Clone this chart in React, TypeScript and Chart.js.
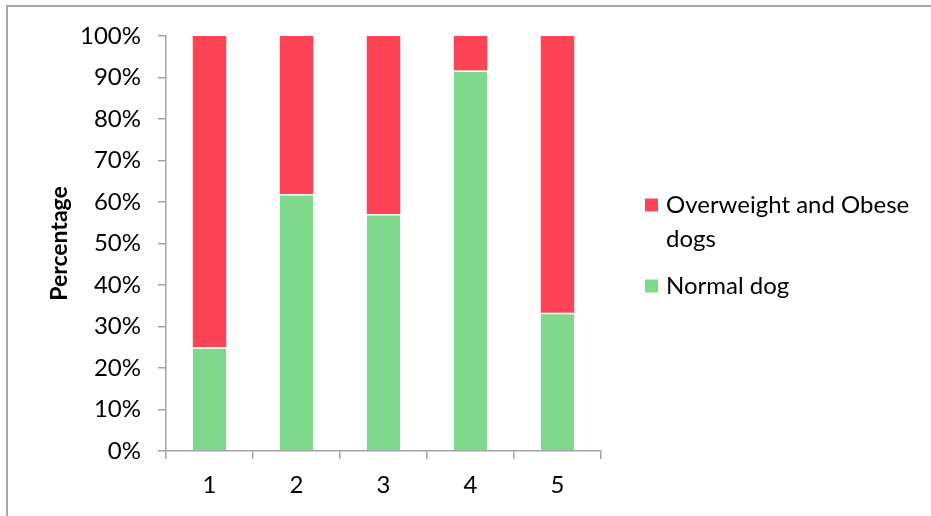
import React, { useEffect, useRef } from "react";
import { Chart, registerables } from "chart.js";

Chart.register(...registerables);

const categories = ["1", "2", "3", "4", "5"];
const normalDog = [25, 61.9, 57.1, 91.7, 33.3];
const overweightObese = [75, 38.1, 42.9, 8.3, 66.7];
const seriesLabels = ["Normal dog", "Overweight and Obese dogs"];
const seriesColors = ["#7FD98C", "#FD4457"];
const yTickValues = [0, 10, 20, 30, 40, 50, 60, 70, 80, 90, 100];

const FONT = "Lato, 'Open Sans', sans-serif";
const AXIS_GRAY = "#A3A3A3";

const framePlugin = {
  id: "frame",
  beforeDraw(chart: any) {
    const ctx = chart.ctx;
    ctx.save();
    ctx.fillStyle = "#fff";
    ctx.fillRect(0, 0, chart.width, chart.height);
    ctx.strokeStyle = "#A6A6A6";
    ctx.lineWidth = 2;
    ctx.beginPath();
    ctx.moveTo(7, chart.height + 2);
    ctx.lineTo(7, 6);
    ctx.lineTo(chart.width + 2, 6);
    ctx.stroke();
    ctx.restore();
  },
};

const legendPlugin = {
  id: "sideLegend",
  afterDraw(chart: any) {
    const ctx = chart.ctx;
    const x0 = 645;
    const textX = 666;
    const maxW = 260;
    const lineGap = 34;
    const itemGap = 47;
    ctx.save();
    ctx.font = `24px ${FONT}`;
    ctx.textBaseline = "middle";
    ctx.fillStyle = "#000";
    let y = 205;
    const ds = chart.data.datasets.slice().reverse();
    ds.forEach((d: any) => {
      const words = String(d.label).split(" ");
      const lines: string[] = [];
      let cur = "";
      words.forEach((w) => {
        const t = cur ? cur + " " + w : w;
        if (ctx.measureText(t).width > maxW && cur) {
          lines.push(cur);
          cur = w;
        } else cur = t;
      });
      if (cur) lines.push(cur);
      ctx.fillStyle = d.backgroundColor;
      ctx.fillRect(x0, y - 6.5, 13, 13);
      ctx.fillStyle = "#000";
      lines.forEach((ln, i) => {
        ctx.fillText(ln, textX, y + i * lineGap);
      });
      y += (lines.length - 1) * lineGap + itemGap;
    });
    ctx.restore();
  },
};

export default function App() {
  const ref = useRef<HTMLCanvasElement>(null);
  useEffect(() => {
    if (!ref.current) return;
    const chart = new Chart(ref.current, {
      type: "bar",
      data: {
        labels: categories,
        datasets: [
          {
            label: seriesLabels[0],
            data: normalDog,
            backgroundColor: seriesColors[0],
            borderColor: "#ffffff",
            borderWidth: { top: 1.5, left: 0, right: 0, bottom: 0 },
            borderSkipped: false,
            barPercentage: 0.385,
            categoryPercentage: 1,
          },
          {
            label: seriesLabels[1],
            data: overweightObese,
            backgroundColor: seriesColors[1],
            borderWidth: 0,
            barPercentage: 0.385,
            categoryPercentage: 1,
          },
        ],
      },
      options: {
        responsive: false,
        animation: false,
        events: [],
        layout: { padding: { left: 0, top: 36, right: 330, bottom: 0 } },
        plugins: {
          legend: { display: false },
          tooltip: { enabled: false },
        },
        scales: {
          x: {
            stacked: true,
            afterFit: (s: any) => {
              s.height = 65;
            },
            border: { display: true, color: AXIS_GRAY, width: 1.5 },
            grid: {
              display: true,
              offset: true,
              drawOnChartArea: false,
              drawTicks: true,
              tickLength: 8,
              color: AXIS_GRAY,
              lineWidth: 1.5,
            },
            ticks: {
              color: "#000",
              padding: 12,
              font: { family: FONT, size: 24 },
            },
          },
          y: {
            stacked: true,
            min: 0,
            max: 100,
            afterFit: (s: any) => {
              s.width = 166;
            },
            afterBuildTicks: (s: any) => {
              s.ticks = yTickValues.map((v) => ({ value: v }));
            },
            border: { display: true, color: AXIS_GRAY, width: 1.5 },
            grid: {
              display: true,
              drawOnChartArea: false,
              drawTicks: true,
              tickLength: 8,
              color: AXIS_GRAY,
              lineWidth: 1.5,
            },
            ticks: {
              color: "#000",
              padding: 17,
              font: { family: FONT, size: 24 },
              callback: (v: any) => `${v}%`,
            },
            title: {
              display: true,
              text: "Percentage",
              color: "#000",
              font: { family: FONT, size: 23, weight: "bold" },
              padding: { top: 46, bottom: 0 },
            },
          },
        },
      },
      plugins: [framePlugin, legendPlugin],
    });
    return () => chart.destroy();
  }, []);
  return (
    <div style={{ position: "fixed", left: 0, top: 0, width: 931, height: 516 }}>
      <canvas ref={ref} width={931} height={516} style={{ display: "block" }} />
    </div>
  );
}
